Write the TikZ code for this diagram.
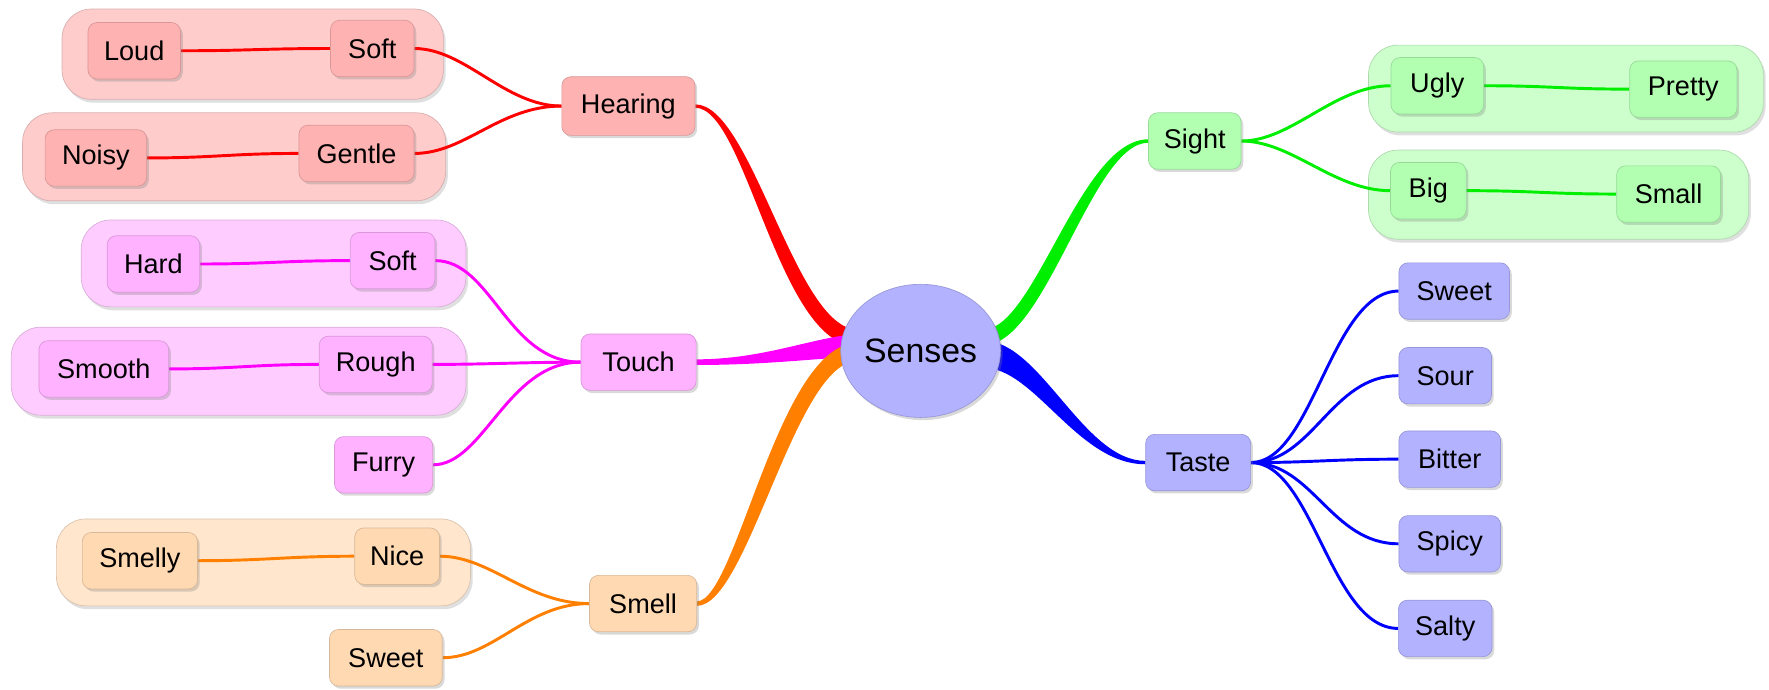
\documentclass[tikz,border=0pt]{standalone}
\usepackage{fontspec}
\setmainfont{Liberation Sans}
\usetikzlibrary{shapes.geometric,shadows,calc}
\definecolor{hearC}{RGB}{255,0,0}
\definecolor{hearN}{RGB}{255,178,178}
\definecolor{hearG}{RGB}{255,204,204}
\definecolor{touchC}{RGB}{255,0,255}
\definecolor{touchN}{RGB}{255,178,255}
\definecolor{touchG}{RGB}{255,204,255}
\definecolor{smellC}{RGB}{255,128,0}
\definecolor{smellN}{RGB}{255,217,178}
\definecolor{smellG}{RGB}{255,230,204}
\definecolor{sightC}{RGB}{0,238,0}
\definecolor{sightN}{RGB}{178,255,178}
\definecolor{sightG}{RGB}{204,255,204}
\definecolor{tasteC}{RGB}{0,0,255}
\definecolor{tasteN}{RGB}{178,178,255}
\pgfdeclarelayer{grp}
\pgfdeclarelayer{lnk}
\pgfsetlayers{grp,lnk,main}
\begin{document}
\begin{tikzpicture}[x=0.5pt,y=-0.5pt,
  nd/.style={rounded corners=4pt,minimum height=25pt,inner sep=1pt,
    font=\fontsize{12}{14}\selectfont,line width=0.3pt,
    drop shadow={shadow xshift=1pt,shadow yshift=-1.2pt,opacity=0.3}},
  hn/.style={nd,fill=hearN,draw=hearN!85!black},
  tn/.style={nd,fill=touchN,draw=touchN!85!black},
  sn/.style={nd,fill=smellN,draw=smellN!85!black},
  gn/.style={nd,fill=sightN,draw=sightN!85!black},
  bn/.style={nd,fill=tasteN,draw=tasteN!85!black},
  grp/.style={rounded corners=13pt,line width=0.3pt,
    drop shadow={shadow xshift=1pt,shadow yshift=-1.5pt,opacity=0.25}},
  ln/.style={line width=1.3pt},
]
\useasboundingbox (0,0) rectangle (1568,611);

% central node
\node[ellipse,fill=tasteN,draw=tasteN!85!black,line width=0.3pt,minimum width=69pt,minimum height=59pt,inner sep=0pt,
  font=\fontsize{15}{18}\selectfont,drop shadow={shadow xshift=1pt,shadow yshift=-1.2pt,opacity=0.3}] (sen) at (816,311) {Senses};

% Hearing
\node[hn,minimum width=59pt,minimum height=26pt] (hear) at (557,94) {Hearing};
\node[hn,minimum width=41pt] (loud) at (119,45) {Loud};
\node[hn,minimum width=37pt] (softA) at (330,43) {Soft};
\node[hn,minimum width=45pt] (noisy) at (85,140) {Noisy};
\node[hn,minimum width=51pt] (gentle) at (316,136) {Gentle};

% Touch
\node[tn,minimum width=51pt] (touch) at (566,321) {Touch};
\node[tn,minimum width=41pt] (hard) at (136,234) {Hard};
\node[tn,minimum width=37.5pt] (softB) at (348,231) {Soft};
\node[tn,minimum width=57.5pt] (smooth) at (92,327) {Smooth};
\node[tn,minimum width=50pt] (rough) at (333,323) {Rough};
\node[tn,minimum width=43.5pt] (furry) at (340,412) {Furry};

% Smell
\node[sn,minimum width=47.5pt] (smell) at (570,535) {Smell};
\node[sn,minimum width=51pt] (smelly) at (124,497) {Smelly};
\node[sn,minimum width=37.5pt] (nice) at (352,493) {Nice};
\node[sn,minimum width=50pt] (sweetA) at (342,583) {Sweet};

% Sight
\node[gn,minimum width=41pt] (sight) at (1059,125) {Sight};
\node[gn,minimum width=41pt] (ugly) at (1274,76) {Ugly};
\node[gn,minimum width=47.5pt] (pretty) at (1492,79) {Pretty};
\node[gn,minimum width=33.5pt] (big) at (1266,169) {Big};
\node[gn,minimum width=46pt] (small) at (1479,172) {Small};

% Taste
\node[bn,minimum width=46.5pt] (taste) at (1062,410) {Taste};
\node[bn,minimum width=49pt] (sweetB) at (1289,258) {Sweet};
\node[bn,minimum width=41pt] (sour) at (1281,333) {Sour};
\node[bn,minimum width=45pt] (bitter) at (1285,407) {Bitter};
\node[bn,minimum width=45pt] (spicy) at (1285,482) {Spicy};
\node[bn,minimum width=41.5pt] (salty) at (1281,557) {Salty};

% group boxes
\begin{pgfonlayer}{grp}
\draw[grp,fill=hearG,draw=hearG!85!black] (55,8) rectangle (393,88);
\draw[grp,fill=hearG,draw=hearG!85!black] (20,100) rectangle (395,178);
\draw[grp,fill=touchG,draw=touchG!85!black] (72,195) rectangle (413,272);
\draw[grp,fill=touchG,draw=touchG!85!black] (10,290) rectangle (413,368);
\draw[grp,fill=smellG,draw=smellG!85!black] (50,460) rectangle (417,537);
\draw[grp,fill=sightG,draw=sightG!85!black] (1213,40) rectangle (1563,117);
\draw[grp,fill=sightG,draw=sightG!85!black] (1213,133) rectangle (1550,212);
\end{pgfonlayer}

\begin{pgfonlayer}{lnk}
% main tapered branches
\fill[hearC] ($(hear.east)+(0,-1.5)$) .. controls +(50,0) and +(-55,0) .. ($(sen.center)+(-56,-19)$)
  -- ($(sen.center)+(-56,-4)$) .. controls +(-70,0) and +(45,0) .. ($(hear.east)+(0,1.5)$) -- cycle;
\fill[touchC] ($(touch.east)+(0,-2.5)$) .. controls +(60,0) and +(-40,3) .. ($(sen.center)+(-56,-15)$)
  -- ($(sen.center)+(-56,5)$) .. controls +(-40,2) and +(60,0) .. ($(touch.east)+(0,2.5)$) -- cycle;
\fill[smellC] ($(smell.east)+(0,-2)$) .. controls +(35,0) and +(-70,0) .. ($(sen.center)+(-56,-7)$)
  -- ($(sen.center)+(-56,9)$) .. controls +(-55,0) and +(45,0) .. ($(smell.east)+(0,2)$) -- cycle;
\fill[sightC] ($(sen.center)+(56,-19)$) .. controls +(45,0) and +(-60,0) .. ($(sight.west)+(0,-1.5)$)
  -- ($(sight.west)+(0,1.5)$) .. controls +(-50,0) and +(55,0) .. ($(sen.center)+(56,-5)$) -- cycle;
\fill[tasteC] ($(sen.center)+(56,-9)$) .. controls +(50,0) and +(-55,0) .. ($(taste.west)+(0,-1.5)$)
  -- ($(taste.west)+(0,1.5)$) .. controls +(-60,0) and +(45,0) .. ($(sen.center)+(56,15)$) -- cycle;

% hearing children
\draw[ln,hearC] (loud.east) .. controls +(60,0) and +(-60,0) .. (softA.west);
\draw[ln,hearC] (noisy.east) .. controls +(60,0) and +(-60,0) .. (gentle.west);
\draw[ln,hearC] (softA.east) .. controls +(45,0) and +(-50,0) .. (hear.west);
\draw[ln,hearC] (gentle.east) .. controls +(45,0) and +(-55,0) .. (hear.west);
% touch children
\draw[ln,touchC] (hard.east) .. controls +(60,0) and +(-60,0) .. (softB.west);
\draw[ln,touchC] (smooth.east) .. controls +(60,0) and +(-60,0) .. (rough.west);
\draw[ln,touchC] (softB.east) .. controls +(50,0) and +(-65,0) .. (touch.west);
\draw[ln,touchC] (rough.east) .. controls +(50,0) and +(-50,0) .. (touch.west);
\draw[ln,touchC] (furry.east) .. controls +(45,0) and +(-65,0) .. (touch.west);
% smell children
\draw[ln,smellC] (smelly.east) .. controls +(60,0) and +(-60,0) .. (nice.west);
\draw[ln,smellC] (nice.east) .. controls +(45,0) and +(-55,0) .. (smell.west);
\draw[ln,smellC] (sweetA.east) .. controls +(45,0) and +(-55,0) .. (smell.west);
% sight children
\draw[ln,sightC] (sight.east) .. controls +(45,0) and +(-50,0) .. (ugly.west);
\draw[ln,sightC] (sight.east) .. controls +(45,0) and +(-50,0) .. (big.west);
\draw[ln,sightC] (ugly.east) .. controls +(60,0) and +(-60,0) .. (pretty.west);
\draw[ln,sightC] (big.east) .. controls +(60,0) and +(-60,0) .. (small.west);
% taste children
\draw[ln,tasteC] (taste.east) .. controls +(55,0) and +(-60,0) .. (sweetB.west);
\draw[ln,tasteC] (taste.east) .. controls +(55,0) and +(-60,0) .. (sour.west);
\draw[ln,tasteC] (taste.east) .. controls +(55,0) and +(-60,0) .. (bitter.west);
\draw[ln,tasteC] (taste.east) .. controls +(55,0) and +(-60,0) .. (spicy.west);
\draw[ln,tasteC] (taste.east) .. controls +(55,0) and +(-60,0) .. (salty.west);
\end{pgfonlayer}
\end{tikzpicture}
\end{document}
